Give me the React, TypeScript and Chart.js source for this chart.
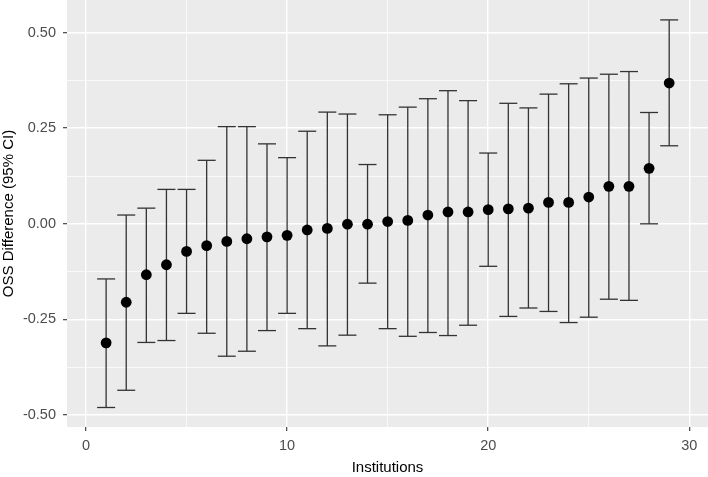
import React, { useEffect, useRef } from "react";
import { Chart, registerables } from "chart.js";

Chart.register(...registerables);

const institutions = [1, 2, 3, 4, 5, 6, 7, 8, 9, 10, 11, 12, 13, 14, 15, 16, 17, 18, 19, 20, 21, 22, 23, 24, 25, 26, 27, 28, 29];
const estimate = [-0.311, -0.205, -0.133, -0.107, -0.072, -0.057, -0.046, -0.039, -0.034, -0.030, -0.016, -0.012, -0.001, -0.001, 0.006, 0.009, 0.023, 0.031, 0.031, 0.037, 0.039, 0.041, 0.056, 0.056, 0.070, 0.098, 0.098, 0.145, 0.368];
const lower = [-0.480, -0.435, -0.310, -0.305, -0.234, -0.286, -0.346, -0.333, -0.279, -0.234, -0.274, -0.319, -0.291, -0.155, -0.274, -0.294, -0.284, -0.292, -0.265, -0.111, -0.242, -0.220, -0.229, -0.258, -0.244, -0.197, -0.200, 0.000, 0.204];
const upper = [-0.144, 0.023, 0.041, 0.090, 0.090, 0.166, 0.254, 0.254, 0.209, 0.173, 0.242, 0.292, 0.287, 0.155, 0.285, 0.305, 0.327, 0.348, 0.322, 0.185, 0.315, 0.303, 0.339, 0.366, 0.381, 0.391, 0.398, 0.291, 0.533];

const xMajorTicks = [0, 10, 20, 30];
const xAllTicks = [0, 5, 10, 15, 20, 25, 30];
const yMajorTicks = [-0.5, -0.25, 0, 0.25, 0.5];
const yAllTicks = [-0.5, -0.375, -0.25, -0.125, 0, 0.125, 0.25, 0.375, 0.5];

const xTitle = "Institutions";
const yTitle = "OSS Difference (95% CI)";

const FONT = "'Liberation Sans', Arial, sans-serif";

const isXMajor = (v: number) => xMajorTicks.some((t) => Math.abs(t - v) < 1e-9);
const isYMajor = (v: number) => yMajorTicks.some((t) => Math.abs(t - v) < 1e-9);

const panelBg = {
  id: "panelBg",
  beforeDraw(chart: any) {
    const { ctx, chartArea } = chart;
    ctx.save();
    ctx.fillStyle = "#EBEBEB";
    ctx.fillRect(chartArea.left, chartArea.top, chartArea.right - chartArea.left, chartArea.bottom - chartArea.top);
    ctx.restore();
  },
};

const zeroPad = (scale: any) => {
  scale.paddingTop = 0;
  scale.paddingBottom = 0;
  scale.paddingLeft = 0;
  scale.paddingRight = 0;
};

export default function App() {
  const ref = useRef<HTMLCanvasElement | null>(null);

  useEffect(() => {
    if (!ref.current) return;
    const whiskers: any[] = [];
    const caps: any[] = [];
    institutions.forEach((x, i) => {
      whiskers.push({ x, y: lower[i] });
      whiskers.push({ x, y: upper[i] });
      whiskers.push({ x, y: null });
      caps.push({ x, y: lower[i] });
      caps.push({ x, y: upper[i] });
    });
    const points = institutions.map((x, i) => ({ x, y: estimate[i] }));

    const chart = new Chart(ref.current, {
      type: "scatter",
      data: {
        datasets: [
          {
            data: points,
            pointRadius: 5.4,
            pointBackgroundColor: "#000000",
            pointBorderWidth: 0,
            pointBorderColor: "#000000",
          },
          {
            data: whiskers,
            showLine: true,
            spanGaps: false,
            borderColor: "#333333",
            borderWidth: 1.3,
            pointRadius: 0,
          },
          {
            data: caps,
            pointStyle: "line",
            pointRadius: 9,
            pointBorderColor: "#333333",
            pointBorderWidth: 1.3,
          },
        ] as any,
      },
      options: {
        animation: false,
        responsive: false,
        devicePixelRatio: 1,
        events: [],
        layout: { padding: 0, autoPadding: false },
        plugins: {
          legend: { display: false },
          tooltip: { enabled: false },
        },
        scales: {
          x: {
            type: "linear",
            min: -0.945,
            max: 30.93,
            afterBuildTicks: (scale: any) => {
              scale.ticks = xAllTicks.map((v) => ({ value: v }));
            },
            afterFit: (scale: any) => {
              scale.height = 50;
              zeroPad(scale);
            },
            border: { display: false },
            grid: {
              color: "#FFFFFF",
              lineWidth: (c: any) => (c.tick && isXMajor(c.tick.value) ? 1.4 : 0.7),
              drawTicks: true,
              tickLength: 4,
              tickWidth: 1.1,
              tickColor: (c: any) => (c.tick && isXMajor(c.tick.value) ? "#333333" : "rgba(0,0,0,0)"),
            },
            ticks: {
              autoSkip: false,
              maxRotation: 0,
              padding: 6,
              color: "#4D4D4D",
              font: { family: FONT, size: 14.5 },
              callback: (v: any) => (isXMajor(Number(v)) ? String(v) : ""),
            },
            title: {
              display: true,
              text: xTitle,
              color: "#000000",
              font: { family: FONT, size: 15 },
              padding: { top: 0, bottom: 0 },
            },
          },
          y: {
            type: "linear",
            min: -0.531,
            max: 0.585,
            afterBuildTicks: (scale: any) => {
              scale.ticks = yAllTicks.map((v) => ({ value: v }));
            },
            afterFit: (scale: any) => {
              scale.width = 67;
              zeroPad(scale);
            },
            border: { display: false },
            grid: {
              color: "#FFFFFF",
              lineWidth: (c: any) => (c.tick && isYMajor(c.tick.value) ? 1.4 : 0.7),
              drawTicks: true,
              tickLength: 4,
              tickWidth: 1.1,
              tickColor: (c: any) => (c.tick && isYMajor(c.tick.value) ? "#333333" : "rgba(0,0,0,0)"),
            },
            ticks: {
              autoSkip: false,
              padding: 7,
              color: "#4D4D4D",
              font: { family: FONT, size: 14.5 },
              callback: (v: any) => (isYMajor(Number(v)) ? Number(v).toFixed(2) : ""),
            },
            title: {
              display: true,
              text: yTitle,
              color: "#000000",
              font: { family: FONT, size: 15 },
              padding: { top: 0, bottom: 0 },
            },
          },
        },
      } as any,
      plugins: [panelBg],
    });
    return () => chart.destroy();
  }, []);

  return (
    <div style={{ position: "absolute", left: 0, top: 0, width: 708, height: 477, background: "#FFFFFF" }}>
      <canvas ref={ref} width={708} height={477} style={{ display: "block", width: 708, height: 477 }} />
    </div>
  );
}
